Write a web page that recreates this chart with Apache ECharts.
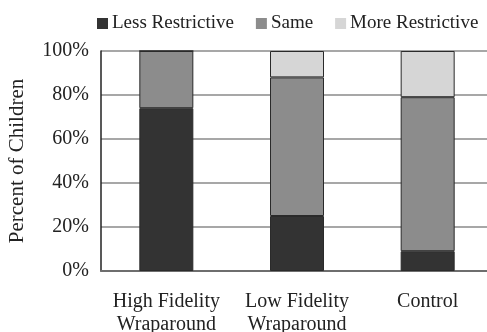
<!DOCTYPE html>
<html>
<head>
<meta charset="utf-8">
<script src="https://cdn.jsdelivr.net/npm/echarts@6/dist/echarts.min.js"></script>
<style>
  html, body { margin: 0; padding: 0; background: #fff; }
  #chart { width: 487px; height: 332px; }
</style>
</head>
<body>
<div id="chart"></div>
<script>
// Placement categories and share of children (percent) in each restrictiveness group
const categories = ['High Fidelity\nWraparound', 'Low Fidelity\nWraparound', 'Control'];
const lessRestrictive = [74, 25, 9];
const same = [26, 63, 70];
const moreRestrictive = [0, 12, 21];
const yTicks = [0, 20, 40, 60, 80, 100];

const FONT = 'Liberation Serif';
const chart = echarts.init(document.getElementById('chart'), null, { renderer: 'canvas' });

const barStyle = (color) => ({ color: color, borderColor: '#2a2a2a', borderWidth: 1 });

chart.setOption({
  animation: false,
  textStyle: { fontFamily: FONT },
  legend: {
    top: 9,
    left: 92,
    itemWidth: 11,
    itemHeight: 11,
    itemGap: 22,
    icon: 'rect',
    itemStyle: { borderWidth: 0 },
    textStyle: { fontFamily: FONT, fontSize: 19, color: '#222', padding: [0, 0, 0, -1] },
    data: ['Less Restrictive', 'Same', 'More Restrictive']
  },
  grid: { left: 101, right: -6, top: 51, bottom: 61, containLabel: false, outerBoundsMode: 'none' },
  xAxis: {
    type: 'category',
    data: categories,
    axisLine: { show: true, lineStyle: { color: '#6e6e6e', width: 2 } },
    axisTick: { show: false },
    axisLabel: { interval: 0, fontFamily: FONT, fontSize: 20, color: '#222', margin: 19, lineHeight: 23 }
  },
  yAxis: {
    type: 'value',
    min: yTicks[0],
    max: yTicks[yTicks.length - 1],
    interval: yTicks[1] - yTicks[0],
    name: 'Percent of Children',
    nameLocation: 'middle',
    nameGap: 73,
    nameTextStyle: { fontFamily: FONT, fontSize: 21, color: '#222' },
    axisLine: { show: true, lineStyle: { color: '#222', width: 1.5 } },
    axisTick: { show: false },
    axisLabel: { fontFamily: FONT, fontSize: 20, color: '#222', margin: 12, formatter: '{value}%' },
    splitLine: { show: true, lineStyle: { color: '#8a8a8a', width: 1.5 } }
  },
  series: [
    { name: 'Less Restrictive', type: 'bar', stack: 'total', barWidth: 54, data: lessRestrictive, itemStyle: barStyle('#333333') },
    { name: 'Same', type: 'bar', stack: 'total', barWidth: 54, data: same, itemStyle: barStyle('#8c8c8c') },
    { name: 'More Restrictive', type: 'bar', stack: 'total', barWidth: 54, data: moreRestrictive, itemStyle: barStyle('#d6d6d6') }
  ]
});
</script>
</body>
</html>
